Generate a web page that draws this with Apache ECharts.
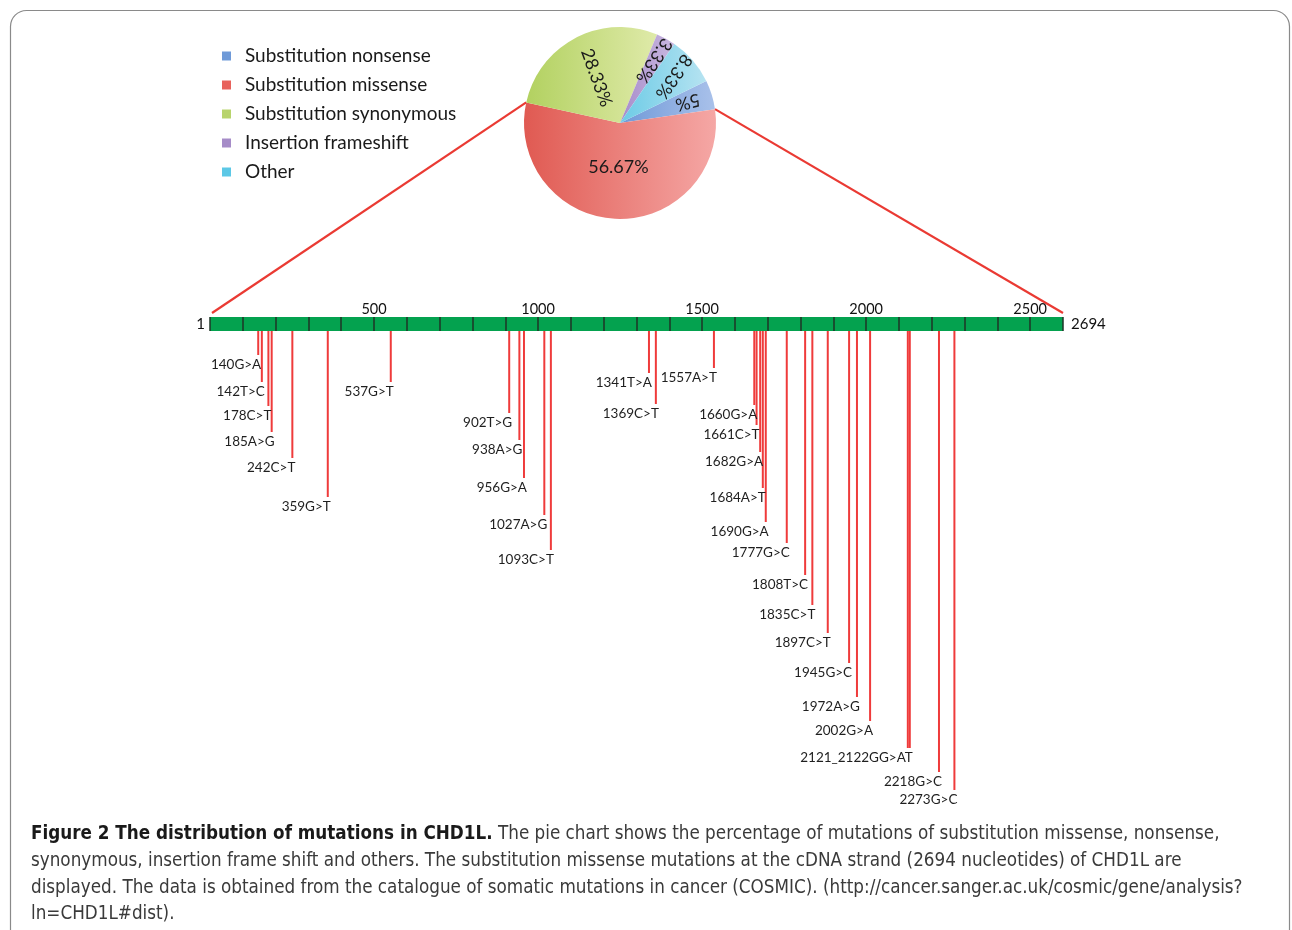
<!DOCTYPE html>
<html>
<head>
<meta charset="utf-8">
<script src="https://cdn.jsdelivr.net/npm/echarts@6/dist/echarts.min.js"></script>
<style>
  html, body { margin: 0; padding: 0; background: #fff; }
  #chart { width: 1292px; height: 930px; }
</style>
</head>
<body>
<div id="chart"></div>
<script>
// pie: mutation types (shares as printed in the figure)
const mutationTypes = ['Substitution nonsense', 'Substitution missense', 'Substitution synonymous', 'Insertion frameshift', 'Other'];
const typeShares = [5, 56.67, 28.33, 3.33, 8.33];
const typeLabels = ['5%', '56.67%', '28.33%', '3.33%', '8.33%'];

// cDNA strand
const strandTickLabels = [500, 1000, 1500, 2000, 2500];
const strandStart = ['1'];
const strandEnd = ['2694'];

// missense mutations: label, drawn position on the strand, stagger depth of the line
const mutationNames = ['140G>A', '142T>C', '178C>T', '185A>G', '242C>T', '359G>T', '537G>T',
  '902T>G', '938A>G', '956G>A', '1027A>G', '1093C>T', '1341T>A', '1369C>T', '1557A>T',
  '1660G>A', '1661C>T', '1682G>A', '1684A>T', '1690G>A', '1777G>C', '1808T>C', '1835C>T',
  '1897C>T', '1945G>C', '1972A>G', '2002G>A', '', '2121_2122GG>AT', '2218G>C', '2273G>C'];
const mutationPos = [147, 158, 178, 188, 251, 359, 551,
  912, 943, 957, 1019, 1039, 1338, 1359, 1536,
  1659, 1666, 1677, 1685, 1694, 1758, 1814, 1836,
  1883, 1948, 1972, 2012, 2127, 2133, 2222, 2269];
const mutationDepth = [24, 51, 75, 101, 127, 166, 51,
  82, 109, 147, 184, 219, 42, 73, 37,
  74, 94, 121, 157, 191, 212, 244, 274,
  302, 332, 366, 390, 417, 417, 441, 459];

const captionBold = 'Figure 2 The distribution of mutations in CHD1L.';
const captionLines = [
  ' The pie chart shows the percentage of mutations of substitution missense, nonsense,',
  'synonymous, insertion frame shift and others. The substitution missense mutations at the cDNA strand (2694 nucleotides) of CHD1L are',
  'displayed. The data is obtained from the catalogue of somatic mutations in cancer (COSMIC). (http://cancer.sanger.ac.uk/cosmic/gene/analysis?',
  'ln=CHD1L#dist).'
];

// styles
const FONT = 'Lato, "Open Sans", sans-serif';
const CAPTION_FONT = '"DejaVu Sans Condensed", "Liberation Sans", sans-serif';
const legendColors = ['#6f9ad8', '#e8625c', '#b8d46c', '#a68cc8', '#5cc8e6'];
const sliceGradients = [
  ['#7099d8', '#a9c1ea'],
  ['#e05a52', '#f5a7a5'],
  ['#b2d160', '#dfeaa9'],
  ['#a78cca', '#c9b8e0'],
  ['#6ccbe6', '#b6e3f1']
];
const labelRotate = [-165, 0, -70, -124, -125];
const PIE_CENTER = [620, 123];
const PIE_R = 96;
const PIE_START = 26;
const STRAND_LEFT = 210, STRAND_RIGHT = 229, STRAND_TOP = 317, STRAND_H = 14;
const RED = '#ef3b3b';

const chart = echarts.init(document.getElementById('chart'));

const grad = (c) => new echarts.graphic.LinearGradient(0, 0, 1, 0, [
  { offset: 0, color: c[0] }, { offset: 1, color: c[1] }
]);

// transparent pie ring used only to carry some slice labels at another radius
const labelRing = (radius, shown) => ({
  type: 'pie',
  center: PIE_CENTER,
  radius,
  startAngle: PIE_START,
  clockwise: true,
  avoidLabelOverlap: false,
  silent: true,
  data: mutationTypes.map((name, i) => ({
    name,
    value: typeShares[i],
    itemStyle: { color: 'rgba(0,0,0,0)' },
    label: { show: shown.includes(i), rotate: labelRotate[i] }
  })),
  label: {
    position: 'inside',
    fontFamily: FONT, fontSize: 18, color: '#1a1a1a',
    formatter: p => typeLabels[p.dataIndex]
  },
  labelLine: { show: false }
});

const option = {
  animation: false,
  backgroundColor: '#fff',
  title: {
    left: 26,
    top: 816,
    text: '{b|' + captionBold + '}{r|' + captionLines[0] + '}\n' +
      captionLines.slice(1).map(l => '{r|' + l + '}').join('\n'),
    textStyle: {
      rich: {
        b: { fontFamily: CAPTION_FONT, fontSize: 18.7, fontWeight: 'bold', color: '#1a1a1a', lineHeight: 26.7 },
        r: { fontFamily: CAPTION_FONT, fontSize: 18.7, fontWeight: 'normal', color: '#3a3a3a', lineHeight: 26.7 }
      }
    }
  },
  legend: {
    orient: 'vertical',
    left: 217,
    top: 41,
    icon: 'rect',
    itemWidth: 9,
    itemHeight: 9,
    itemGap: 9,
    selectedMode: false,
    data: mutationTypes.map((name, i) => ({ name, itemStyle: { color: legendColors[i] } })),
    textStyle: { fontFamily: FONT, fontSize: 19, color: '#1a1a1a', lineHeight: 20, padding: [0, 0, 0, 9] }
  },
  grid: [
    { left: STRAND_LEFT, right: STRAND_RIGHT, top: STRAND_TOP, height: STRAND_H,
      show: true, backgroundColor: '#04a24f', borderWidth: 0 },
    { left: STRAND_LEFT, right: STRAND_RIGHT, top: STRAND_TOP + STRAND_H, height: 500 }
  ],
  xAxis: [
    {
      gridIndex: 0, type: 'value', min: 0, max: 2600, interval: 100, position: 'top',
      axisLine: { show: false }, axisTick: { show: false },
      splitLine: { show: true, lineStyle: { color: '#1e3326', width: 1.5 } },
      axisLabel: {
        margin: 0, fontFamily: FONT, fontSize: 14.5, color: '#111',
        formatter: v => strandTickLabels.includes(v) ? String(v) : ''
      }
    },
    { gridIndex: 1, type: 'value', min: 0, max: 2600, show: false }
  ],
  yAxis: [
    { gridIndex: 0, type: 'category', data: strandStart, position: 'left',
      axisLine: { show: false }, axisTick: { show: false }, splitLine: { show: false },
      axisLabel: { margin: 5, fontFamily: FONT, fontSize: 15, color: '#111' } },
    { gridIndex: 0, type: 'category', data: strandEnd, position: 'right',
      axisLine: { show: false }, axisTick: { show: false }, splitLine: { show: false },
      axisLabel: { margin: 8, fontFamily: FONT, fontSize: 15, color: '#111' } },
    { gridIndex: 1, type: 'value', min: 0, max: 500, inverse: true, show: false }
  ],
  series: [
    {
      type: 'pie',
      center: PIE_CENTER,
      radius: [0, PIE_R],
      startAngle: PIE_START,
      clockwise: true,
      avoidLabelOverlap: false,
      silent: true,
      data: mutationTypes.map((name, i) => ({
        name,
        value: typeShares[i],
        itemStyle: { color: grad(sliceGradients[i]) },
        label: { show: i === 2, rotate: labelRotate[i] }
      })),
      label: {
        position: 'inside',
        fontFamily: FONT, fontSize: 18, color: '#1a1a1a',
        formatter: p => typeLabels[p.dataIndex]
      },
      labelLine: { show: false }
    },
    labelRing([0, 82], [1]),
    labelRing([40, PIE_R], [0, 3, 4]),
    {
      type: 'bar',
      xAxisIndex: 1,
      yAxisIndex: 2,
      barWidth: 2,
      silent: true,
      itemStyle: { color: RED },
      data: mutationPos.map((p, i) => [p, mutationDepth[i]]),
      label: {
        show: true,
        position: 'bottom',
        distance: 3,
        align: 'right',
        offset: [3, 0],
        fontFamily: FONT, fontSize: 13.5, color: '#1f1f1f',
        formatter: p => mutationNames[p.dataIndex]
      }
    }
  ]
};

chart.setOption(option);

// zoom lines from the missense slice edges down to the ends of the strand
const total = typeShares.reduce((a, b) => a + b, 0);
const redStart = PIE_START - 360 * typeShares[0] / total;
const redEnd = redStart - 360 * typeShares[1] / total;
const rimPoint = deg => [
  PIE_CENTER[0] + PIE_R * Math.cos(deg * Math.PI / 180),
  PIE_CENTER[1] - PIE_R * Math.sin(deg * Math.PI / 180)
];
const pR = rimPoint(redStart);
const pL = rimPoint(redEnd);
const xL = chart.convertToPixel({ xAxisIndex: 0 }, 0) + 2;
const xR = chart.convertToPixel({ xAxisIndex: 0 }, 2600);

chart.setOption({
  graphic: [
    { type: 'rect', silent: true, z: -10,
      shape: { x: 10.5, y: 10.5, width: 1279, height: 960, r: 16 },
      style: { fill: 'none', stroke: '#8a8a8a', lineWidth: 1.2 } },
    { type: 'line', silent: true, z: 0,
      shape: { x1: pL[0], y1: pL[1], x2: xL, y2: STRAND_TOP - 4 },
      style: { stroke: '#ea3a33', lineWidth: 2.2 } },
    { type: 'line', silent: true, z: 0,
      shape: { x1: pR[0], y1: pR[1], x2: xR, y2: STRAND_TOP - 4 },
      style: { stroke: '#ea3a33', lineWidth: 2.2 } }
  ]
});
</script>
</body>
</html>
